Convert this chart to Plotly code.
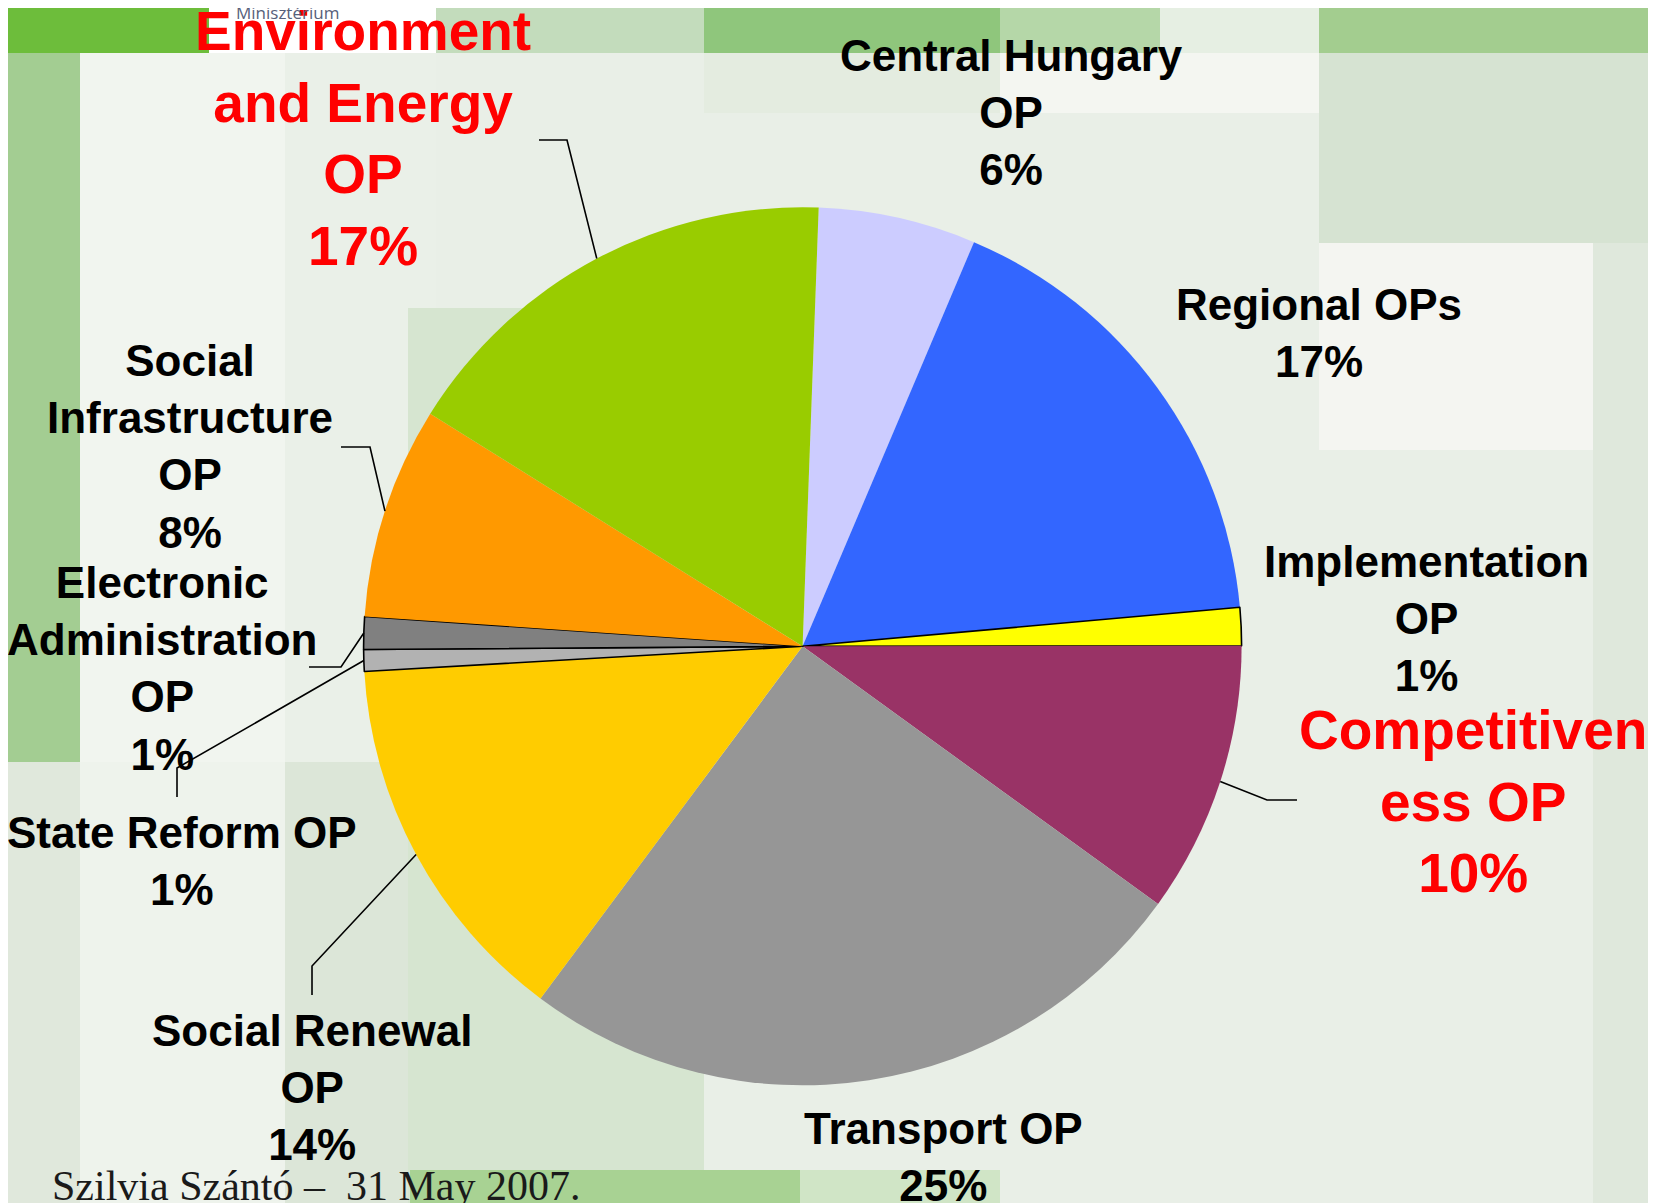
import math
import plotly.graph_objects as go

# page is 1656x1203, the html body adds an 8px margin on top/left
PAGE_W, PAGE_H = 1656, 1203
OFF = 8
W, H = PAGE_W - OFF, PAGE_H - OFF

# slices, clockwise from just right of 12 o'clock
names = [
    "Central Hungary OP", "Regional OPs", "Implementation OP", "Competitiveness OP",
    "Transport OP", "Social Renewal OP", "State Reform OP",
    "Electronic Administration OP", "Social Infrastructure OP", "Environment and Energy OP",
]
label_lines = [
    "Central Hungary<br>OP", "Regional OPs", "Implementation<br>OP", "Competitiven<br>ess OP",
    "Transport OP", "Social Renewal<br>OP", "State Reform OP",
    "Electronic<br>Administration<br>OP", "Social<br>Infrastructure<br>OP", "Environment<br>and Energy<br>OP",
]
values = [5.8, 17.2, 1.4, 10.0, 25.2, 13.9, 0.8, 1.2, 7.8, 16.7]
colors = ["#CCCCFF", "#3366FF", "#FFFF00", "#993366", "#969696",
          "#FFCC00", "#B2B2B2", "#808080", "#FF9900", "#99CC00"]
outlined = [False, False, True, False, False, False, True, True, False, False]
highlight = [False, False, False, True, False, False, False, False, False, True]

# label block centres (page px) and leader (end, elbow) or None
label_pos = [(1012, 112), (1319, 333), (1426, 618), (1473, 801), (943, 1157),
             (312, 1087), (182, 861), (162, 668), (190, 447), (363, 139)]
leaders = [None, None, None, ((1297, 800), (1267, 800)), None,
           ((312, 995), (312, 966)), ((177, 797), (177, 768)), ((309, 667), (341, 667)),
           ((341, 447), (370, 447)), ((539, 140), (567, 140))]

CX, CY, R = 802.6, 646.3, 439
ROT = 2.1


def px(x, y):
    return (x - OFF) / W, 1 - (y - OFF) / H


fig = go.Figure()

# slide background
bg = [
    (0, 0, 209, 53, "#6dbd3b"), (209, 0, 436, 53, "#ffffff"), (436, 0, 704, 53, "#c3dcbc"),
    (704, 0, 1000, 53, "#8fc67c"), (1000, 0, 1160, 53, "#b5d7a8"), (1160, 0, 1319, 53, "#e6efe3"),
    (1319, 0, 1656, 53, "#a3cd8f"),
    (0, 53, 80, 762, "#a3cd92"), (80, 53, 285, 762, "#f1f5ef"), (285, 53, 436, 762, "#eaf0e8"),
    (704, 53, 1000, 113, "#e4ece0"), (1000, 53, 1319, 113, "#f4f6f1"), (1319, 53, 1656, 243, "#d6e3d2"),
    (1319, 243, 1593, 450, "#f4f5f1"), (1593, 243, 1656, 1203, "#dfe8dc"),
    (0, 762, 80, 1203, "#e0e8dc"), (80, 762, 285, 1203, "#eef3ec"), (285, 762, 410, 1203, "#dce6d8"),
    (408, 308, 704, 1203, "#d6e5d0"), (410, 1170, 800, 1203, "#a8d293"), (800, 1170, 1000, 1203, "#d0e5c6"),
]
for x0, y0, x1, y1, c in bg:
    a0, b0 = px(x0, y0)
    a1, b1 = px(x1, y1)
    fig.add_shape(type="rect", xref="paper", yref="paper", x0=a0, y0=b1, x1=a1, y1=b0,
                  fillcolor=c, line_width=0, layer="below")

dx0, dy1 = px(CX - R, CY - R)
dx1, dy0 = px(CX + R, CY + R)
fig.add_trace(go.Pie(
    labels=names, values=values, sort=False, direction="clockwise", rotation=ROT,
    marker=dict(colors=colors, line=dict(color="black", width=[1.6 if o else 0 for o in outlined])),
    textinfo="none", showlegend=False,
    domain=dict(x=[dx0, dx1], y=[dy0, dy1]),
))

# labels and leader lines
total = sum(values)
start = ROT
for i, v in enumerate(values):
    mid = math.radians(start + 360 * v / total / 2)
    start += 360 * v / total
    red = highlight[i]
    lx, ly = px(*label_pos[i])
    fig.add_annotation(
        x=lx, y=ly, xref="paper", yref="paper", xanchor="center", yanchor="middle",
        text=f"{label_lines[i]}<br>{round(v)}%", showarrow=False, align="center",
        font=dict(family="Arial, Liberation Sans", size=55 if red else 44,
                  color="#FF0000" if red else "black", weight="bold"),
    )
    if leaders[i]:
        ax, ay = CX + R * math.sin(mid), CY - R * math.cos(mid)
        (ex, ey), (bx, by) = leaders[i]
        pts = [px(ex, ey), px(bx, by), px(ax, ay)]
        path = "M " + " L ".join(f"{p[0]:.5f},{p[1]:.5f}" for p in pts)
        fig.add_shape(type="path", xref="paper", yref="paper", path=path,
                      line=dict(color="black", width=1.6))

fx, fy = px(50, 1186)
fig.add_annotation(x=fx, y=fy, xref="paper", yref="paper", xanchor="left", yanchor="middle",
                   text="Szilvia Szántó –  31 May 2007.", showarrow=False,
                   font=dict(family="Liberation Serif, Times New Roman", size=42, color="#1a1a1a"))
mx, my = px(287, 13)
fig.add_annotation(x=mx, y=my, xref="paper", yref="paper", xanchor="center", yanchor="middle",
                   text="Minisztérium", showarrow=False,
                   font=dict(family="Open Sans", size=17, color="#56607a"))

fig.update_layout(width=W, height=H, margin=dict(l=0, r=0, t=0, b=0),
                  paper_bgcolor="#e9efe7", plot_bgcolor="#e9efe7")
fig.write_html("out.html")
